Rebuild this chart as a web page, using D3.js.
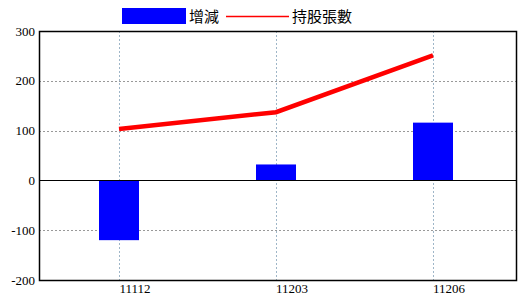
<!DOCTYPE html>
<html>
<head>
<meta charset="utf-8">
<script src="https://cdn.jsdelivr.net/npm/d3@7"></script>
<style>
  body { margin: 0; background: #fff; }
</style>
</head>
<body>
<script>
var w = 520,
    h = 300;

var periods = ["11112", "11203", "11206"];
var changes = [-120, 32, 116];
var holdings = [103, 137, 251];
var yTicks = [-200, -100, 0, 100, 200, 300];

var plotL = 39, plotR = 516, plotT = 31, plotB = 280;

var svg = d3.select("body").append("svg")
  .attr("width", w)
  .attr("height", h);

var x = d3.scalePoint().domain(periods).range([119, 433]);
var y = d3.scaleLinear().domain([-200, 300]).range([plotB, plotT]);

// grid
svg.selectAll(".hgrid").data(yTicks.filter(function(d) { return d != 0 && d != 300 && d != -200; }))
  .enter().append("line")
  .attr("x1", plotL).attr("x2", plotR)
  .attr("y1", function(d) { return Math.round(y(d)) + 0.5; })
  .attr("y2", function(d) { return Math.round(y(d)) + 0.5; })
  .attr("stroke", "#999")
  .attr("stroke-dasharray", "2,2");

svg.selectAll(".vgrid").data(periods)
  .enter().append("line")
  .attr("x1", function(d) { return x(d) + 0.5; })
  .attr("x2", function(d) { return x(d) + 0.5; })
  .attr("y1", plotT).attr("y2", plotB)
  .attr("stroke", "#9fb6c8")
  .attr("stroke-dasharray", "2,2");

// bars
svg.selectAll("rect.bar").data(changes)
  .enter().append("rect")
  .attr("x", function(d, i) { return x(periods[i]) - 20; })
  .attr("width", 40)
  .attr("y", function(d) { return y(Math.max(0, d)); })
  .attr("height", function(d) { return Math.abs(y(d) - y(0)); })
  .attr("fill", "#0000ff");

// zero line
svg.append("line")
  .attr("x1", plotL).attr("x2", plotR)
  .attr("y1", Math.round(y(0)) + 0.5).attr("y2", Math.round(y(0)) + 0.5)
  .attr("stroke", "#000")
  .attr("stroke-width", 1.2);

// line series
var line = d3.line()
  .x(function(d, i) { return x(periods[i]); })
  .y(function(d) { return y(d); });

svg.append("path")
  .datum(holdings)
  .attr("d", line)
  .attr("fill", "none")
  .attr("stroke", "#ff0000")
  .attr("stroke-width", 4.5);

// frame
svg.append("rect")
  .attr("x", plotL + 0.5).attr("y", plotT + 0.5)
  .attr("width", plotR - plotL).attr("height", plotB - plotT)
  .attr("fill", "none")
  .attr("stroke", "#000")
  .attr("stroke-width", 1.5);

// axes labels
svg.selectAll("text.ylab").data(yTicks)
  .enter().append("text")
  .text(function(d) { return d; })
  .attr("x", 35)
  .attr("y", function(d) { return y(d) + 4.5; })
  .attr("text-anchor", "end")
  .attr("font-size", "13px")
  .attr("font-family", "Liberation Serif, serif")
  .attr("fill", "#000");

svg.selectAll("text.xlab").data(periods)
  .enter().append("text")
  .text(function(d) { return d; })
  .attr("x", function(d) { return x(d) + 16; })
  .attr("y", 293)
  .attr("text-anchor", "middle")
  .attr("font-size", "13px")
  .attr("font-family", "Liberation Serif, serif")
  .attr("fill", "#000");

// legend
svg.append("rect")
  .attr("x", 122).attr("y", 8)
  .attr("width", 64).attr("height", 16)
  .attr("fill", "#0000ff");
svg.append("text").text("增減")
  .attr("x", 189).attr("y", 22)
  .attr("font-size", "15px")
  .attr("font-family", "Noto Sans CJK TC")
  .attr("fill", "#000");
svg.append("line")
  .attr("x1", 226).attr("x2", 289)
  .attr("y1", 16.5).attr("y2", 16.5)
  .attr("stroke", "#ff0000")
  .attr("stroke-width", 1.5);
svg.append("text").text("持股張數")
  .attr("x", 292).attr("y", 22)
  .attr("font-size", "15px")
  .attr("font-family", "Noto Sans CJK TC")
  .attr("fill", "#000");
</script>
</body>
</html>
